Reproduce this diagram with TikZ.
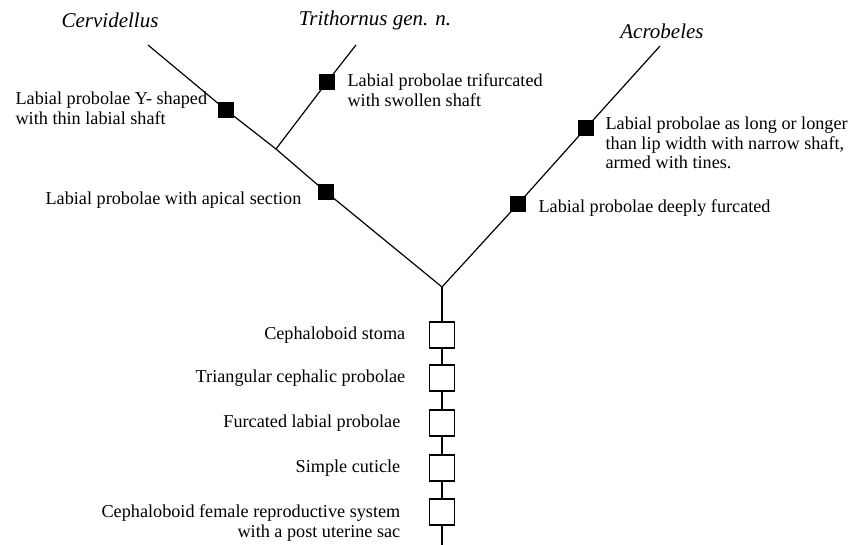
\documentclass[tikz,border=0pt]{standalone}
\usepackage{fontspec}
\setmainfont{Liberation Serif}
\usetikzlibrary{positioning}

\tikzset{
  apobox/.style={draw,fill=black,minimum size=14pt,inner sep=0pt},
  plesbox/.style={draw,fill=white,minimum width=25pt,minimum height=26pt,inner sep=0pt},
  lab/.style={inner sep=0pt,align=left,font=\fontsize{18.2}{19.8}\selectfont},
  taxon/.style={inner sep=0pt,font=\fontsize{21}{24}\selectfont\itshape}
}

\begin{document}
\begin{tikzpicture}[x=1pt,y=-1pt,line width=1.2pt]
    \useasboundingbox (0,0) rectangle (849,545);
    % tips, fork and root
    \coordinate (cerv) at (148,45);
    \coordinate (trit) at (356,45);
    \coordinate (acro) at (660,46);
    \coordinate (fork) at (276,149);
    \coordinate (root) at (442,287);
    \coordinate (base) at (442,545);
    \node[taxon] (ncerv) at (110,20) {Cervidellus};
    \node[taxon] (ntrit) at (375,20) {Trithornus gen. n.};
    \node[taxon] (nacro) at (662,31) {Acrobeles};
    % derived states
    \node[apobox] (yshape) at (226,110) {};
    \node[apobox] (apical) at (326,192) {};
    \node[apobox] (trif) at (327,82) {};
    \node[apobox] (tines) at (586,128) {};
    \node[apobox] (furc) at (518,204) {};
    \draw (cerv) -- (yshape) -- (fork) -- (apical) -- (root);
    \draw (fork) -- (trif) -- (trit);
    \draw (root) -- (furc) -- (tines) -- (acro);
    \node[lab,anchor=west] (lyshape) at (15,108) {Labial probolae Y- shaped\\with thin labial shaft};
    \node[lab,anchor=west] (lapical) at (45,200) {Labial probolae with apical section};
    \node[lab,anchor=west] (ltrif) at (347,90) {Labial probolae trifurcated\\with swollen shaft};
    \node[lab,anchor=west] (ltines) at (605,143) {Labial probolae as long or longer\\than lip width with narrow shaft,\\armed with tines.};
    \node[lab,anchor=west] (lfurc) at (538,208) {Labial probolae deeply furcated};
    % shared states
    \foreach \y/\nm/\d/\dy/\txt in {
      335/c1/23/0/Cephaloboid stoma,
      378/c2/23/0/Triangular cephalic probolae,
      423/c3/28/0/Furcated labial probolae,
      468/c4/28/0/Simple cuticle,
      512/c5/28/-11/{Cephaloboid female reproductive system\\with a post uterine sac}}{
      \node[plesbox] (\nm) at (442,\y) {};
      \node[lab,align=right,left=\d pt of \nm,yshift=\dy pt] (l\nm) {\txt};
    }
    \draw (root) -- (c1) -- (c2) -- (c3) -- (c4) -- (c5) -- (base);
  \end{tikzpicture}
\end{document}
